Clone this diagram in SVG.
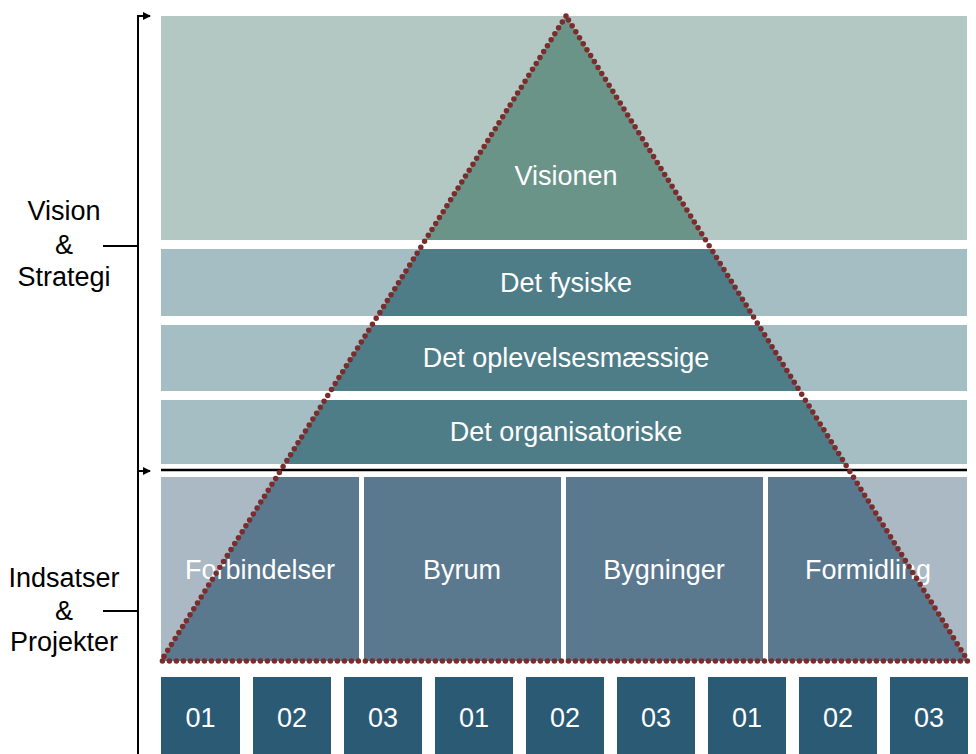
<svg xmlns="http://www.w3.org/2000/svg" width="976" height="754" viewBox="0 0 976 754">
<style>
.lbl{font-family:"Liberation Sans",Arial,sans-serif;font-size:27px;fill:#000;text-anchor:middle}
.wt{font-family:"Liberation Sans",Arial,sans-serif;font-size:27px;fill:#fff;text-anchor:middle}
.num{font-family:"Liberation Sans",Arial,sans-serif;font-size:27px;fill:#fff;text-anchor:middle}
.sq{fill:#2B5A75}
.ln{stroke:#000;stroke-width:2;fill:none}
</style>
<defs>
<clipPath id="tri"><polygon points="566,16 161,661 968,661"/></clipPath>
<marker id="ah" markerWidth="8" markerHeight="8" refX="7" refY="4" orient="auto" markerUnits="userSpaceOnUse"><path d="M0,0 L8,4 L0,8 z" fill="#000"/></marker>
</defs>
<g id="bracket">
<path class="ln" d="M138,754 L138,16 L150,16" marker-end="url(#ah)"/>
<path class="ln" d="M138,471 L150,471" marker-end="url(#ah)"/>
<path class="ln" d="M103,246 L138,246"/>
<path class="ln" d="M103,611 L138,611"/>
</g>
<g id="label-vision">
<text class="lbl" x="64" y="220">Vision</text>
<text class="lbl" x="64" y="254">&amp;</text>
<text class="lbl" x="64" y="286">Strategi</text>
</g>
<g id="label-indsatser">
<text class="lbl" x="64" y="587">Indsatser</text>
<text class="lbl" x="64" y="620">&amp;</text>
<text class="lbl" x="64" y="651">Projekter</text>
</g>
<g id="bands">
<rect x="161" y="16" width="806" height="224" fill="#B3C8C2"/>
<rect x="161" y="249" width="806" height="67" fill="#A5BEC3"/>
<rect x="161" y="325" width="806" height="66" fill="#A5BEC3"/>
<rect x="161" y="400" width="806" height="64" fill="#A5BEC3"/>
<rect x="161" y="477" width="198" height="184" fill="#AAB9C3"/>
<rect x="364" y="477" width="197" height="184" fill="#AAB9C3"/>
<rect x="566" y="477" width="197" height="184" fill="#AAB9C3"/>
<rect x="768" y="477" width="199" height="184" fill="#AAB9C3"/>
<line x1="161" y1="470" x2="967" y2="470" stroke="#000" stroke-width="2.5"/>
</g>
<g id="triangle-fill" clip-path="url(#tri)">
<rect x="161" y="16" width="806" height="224" fill="#6A9488"/>
<rect x="161" y="249" width="806" height="67" fill="#4E7D87"/>
<rect x="161" y="325" width="806" height="66" fill="#4E7D87"/>
<rect x="161" y="400" width="806" height="64" fill="#4E7D87"/>
<rect x="161" y="477" width="198" height="184" fill="#5A788E"/>
<rect x="364" y="477" width="197" height="184" fill="#5A788E"/>
<rect x="566" y="477" width="197" height="184" fill="#5A788E"/>
<rect x="768" y="477" width="199" height="184" fill="#5A788E"/>
</g>
<g id="node-visionen"><text class="wt" x="566" y="185">Visionen</text></g>
<g id="node-fysiske"><text class="wt" x="566" y="292">Det fysiske</text></g>
<g id="node-oplevelses"><text class="wt" x="566" y="367">Det oplevelsesmæssige</text></g>
<g id="node-organisatoriske"><text class="wt" x="566" y="441">Det organisatoriske</text></g>
<g id="node-forbindelser"><text class="wt" x="260" y="579">Forbindelser</text></g>
<g id="node-byrum"><text class="wt" x="462" y="579">Byrum</text></g>
<g id="node-bygninger"><text class="wt" x="664" y="579">Bygninger</text></g>
<g id="node-formidling"><text class="wt" x="868" y="579">Formidling</text></g>
<g id="triangle-outline">
<polygon points="566,16 161,661 968,661" fill="none" stroke="#7B2C2C" stroke-width="5.5" stroke-linecap="round" stroke-dasharray="0 7"/>
</g>
<g id="numbers">
<rect class="sq" x="161" y="677" width="79" height="80"/><text class="num" x="200.5" y="727">01</text>
<rect class="sq" x="253" y="677" width="78" height="80"/><text class="num" x="292" y="727">02</text>
<rect class="sq" x="344" y="677" width="78" height="80"/><text class="num" x="383" y="727">03</text>
<rect class="sq" x="435" y="677" width="78" height="80"/><text class="num" x="474" y="727">01</text>
<rect class="sq" x="526" y="677" width="78" height="80"/><text class="num" x="565" y="727">02</text>
<rect class="sq" x="617" y="677" width="78" height="80"/><text class="num" x="656" y="727">03</text>
<rect class="sq" x="708" y="677" width="78" height="80"/><text class="num" x="747" y="727">01</text>
<rect class="sq" x="799" y="677" width="78" height="80"/><text class="num" x="838" y="727">02</text>
<rect class="sq" x="890" y="677" width="78" height="80"/><text class="num" x="929" y="727">03</text>
</g>
</svg>
